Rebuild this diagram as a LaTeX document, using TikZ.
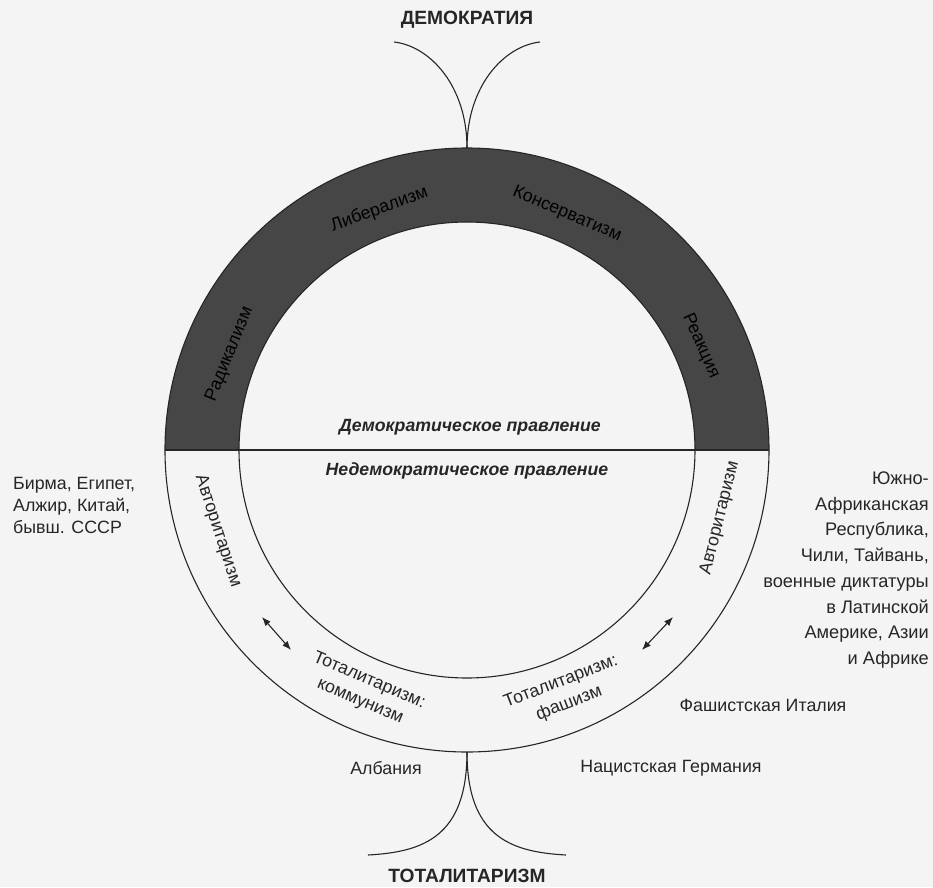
\documentclass[tikz,border=0pt]{standalone}
\usepackage{fontspec}
\setmainfont{Liberation Sans}
\usetikzlibrary{arrows.meta}
\definecolor{ink}{HTML}{262626}
\definecolor{ringgray}{HTML}{464646}
\definecolor{paper}{HTML}{F4F4F4}

\begin{document}
\begin{tikzpicture}[x=1pt,y=1pt,
  ink/.style={draw=ink,line width=1.1pt},
  word/.style={text=ink,font=\fontsize{17.8}{22}\selectfont,inner sep=0pt},
  bandword/.style={text=black,font=\fontsize{17.8}{20}\selectfont,inner sep=0pt},
  head/.style={text=ink,font=\fontsize{19.2}{22}\selectfont\bfseries,inner sep=0pt},
  rule/.style={text=ink,font=\fontsize{17.7}{20}\selectfont\bfseries\itshape,inner sep=0pt},
  swap/.style={{Latex[length=9pt,width=7pt]}-{Latex[length=9pt,width=7pt]},draw=ink,line width=1.1pt}]
\useasboundingbox (-467,-437) rectangle (466,450);
\fill[paper] (-467,-437) rectangle (466,450);
% the ring: dark upper half, open lower half
\fill[ringgray] (0:302) arc[start angle=0,end angle=180,radius=302] -- (180:228) arc[start angle=180,end angle=0,radius=228] -- cycle;
\draw[ink] (0,0) circle[radius=302];
\draw[ink] (0,0) circle[radius=228];
\draw[ink] (180:302) -- (0:302);
\node[rule] (dem) at (3,23) {Демократическое правление};
\node[rule] (nondem) at (0,-21) {Недемократическое правление};
% currents in the dark band
\node[bandword,rotate=68] (radical) at (158:256) {Радикализм};
\node[bandword,rotate=20] (liberal) at (110:256) {Либерализм};
\node[bandword,rotate=-23] (conserv) at (67:256) {Консерватизм};
\node[bandword,rotate=-66] (react) at (24:256) {Реакция};
% lower half
\node[word,rotate=-72] (authL) at (198:262) {Авторитаризм};
\node[word,rotate=76] (authR) at (-15:262) {Авторитаризм};
\node[word,rotate=-23,align=center,font=\fontsize{17.8}{23}\selectfont] (totcom) at (247:262) {Тоталитаризм:\\коммунизм};
\node[word,rotate=21,align=center,font=\fontsize{17.8}{23}\selectfont] (totfas) at (292:262) {Тоталитаризм:\\фашизм};
\coordinate (swL1) at (-205,-167);
\coordinate (swL2) at (-176,-200);
\coordinate (swR1) at (206,-167);
\coordinate (swR2) at (175,-200);
\draw[swap] (swL1) -- (swL2);
\draw[swap] (swR1) -- (swR2);
% poles
\node[head] (demo) at (0,430) {ДЕМОКРАТИЯ};
\coordinate (top) at (90:302);
\coordinate (demL) at (-73,408);
\coordinate (demR) at (73,408);
\draw[ink] (top) .. controls +(0,62) and +(36,-4) .. (demL);
\draw[ink] (top) .. controls +(0,62) and +(-36,-4) .. (demR);
\node[head] (total) at (0,-426) {ТОТАЛИТАРИЗМ};
\coordinate (bot) at (-90:302);
\coordinate (totL) at (-99,-405);
\coordinate (totR) at (99,-405);
\draw[ink] (bot) .. controls +(0,-85) and +(55,3) .. (totL);
\draw[ink] (bot) .. controls +(0,-85) and +(-55,3) .. (totR);
% examples
\node[word,anchor=west,align=left] (eastex) at (-454,-55) {Бирма, Египет,\\Алжир, Китай,\\бывш. СССР};
\node[word,anchor=east,align=right,font=\fontsize{18.2}{25.7}\selectfont] (westex) at (462,-120) {Южно-\\Африканская\\Республика,\\Чили, Тайвань,\\военные диктатуры\\в Латинской\\Америке, Азии\\и Африке};
\node[word] (italy) at (296,-255) {Фашистская Италия};
\node[word] (germany) at (204,-318) {Нацистская Германия};
\node[word] (albania) at (-81,-318) {Албания};
\end{tikzpicture}
\end{document}
